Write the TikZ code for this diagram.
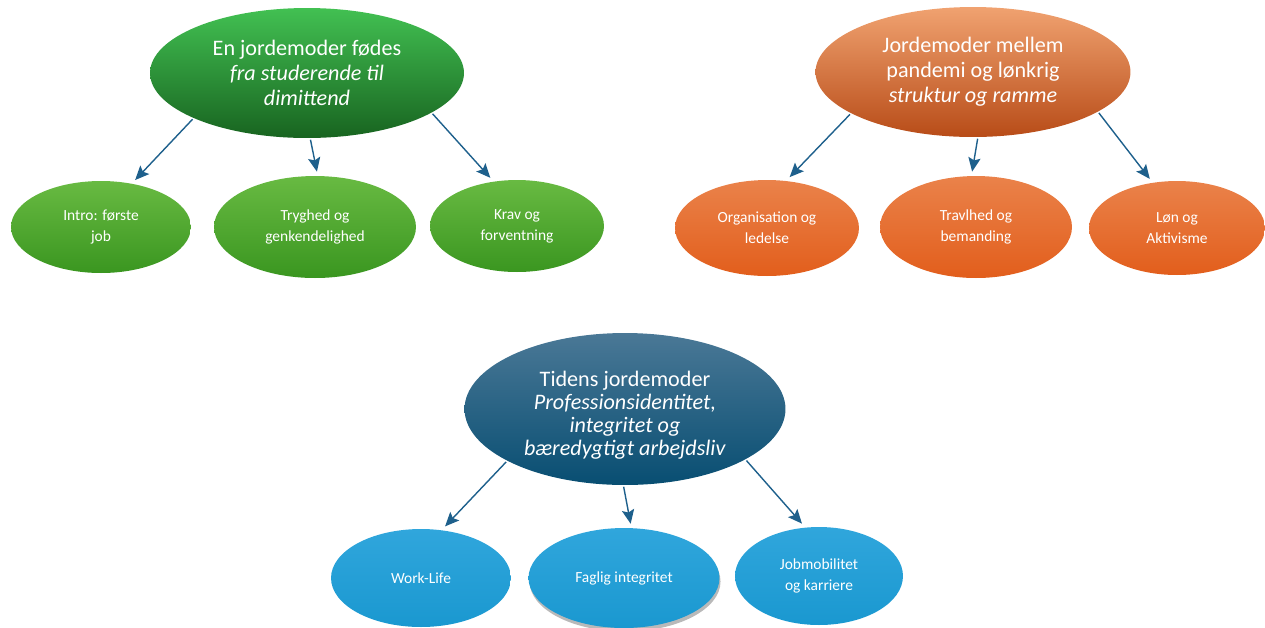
\documentclass[tikz,border=0pt]{standalone}
\usepackage{fontspec}
\setmainfont{Carlito}
\usetikzlibrary{shapes,shadows,arrows.meta}

\definecolor{greentop}{RGB}{66,192,82}
\definecolor{greenmid}{RGB}{40,150,52}
\definecolor{greenbot}{RGB}{24,100,32}
\definecolor{leaftop}{RGB}{104,186,66}
\definecolor{leafbot}{RGB}{58,150,32}
\definecolor{orangetop}{RGB}{240,162,112}
\definecolor{orangemid}{RGB}{234,114,44}
\definecolor{orangebot}{RGB}{184,76,24}
\definecolor{peachtop}{RGB}{234,130,74}
\definecolor{peachbot}{RGB}{226,94,28}
\definecolor{navytop}{RGB}{74,120,150}
\definecolor{navybot}{RGB}{8,78,114}
\definecolor{skytop}{RGB}{48,166,220}
\definecolor{skybot}{RGB}{26,152,208}
\definecolor{arrowblue}{RGB}{30,96,140}

\begin{document}
\begin{tikzpicture}[x=0.02cm,y=-0.02cm]
        \tikzstyle{bubble}=[ellipse,inner sep=0pt,text=white,align=center]
        \tikzstyle{topic}=[bubble,outer sep=1pt,font=\fontsize{12.6}{14.2}\selectfont]
        \tikzstyle{theme}=[bubble,outer sep=2.5pt,font=\fontsize{8.8}{11.8}\selectfont]
        \tikzstyle{link}=[draw=arrowblue,line width=0.8pt,-{Stealth[length=8pt,width=7pt,inset=1.5pt]}]
        \useasboundingbox (0,0) rectangle (1265,627);

        % green group
        \node[topic,minimum width=6.28cm,minimum height=2.6cm,top color=greentop,middle color=greenmid,bottom color=greenbot]
          (g0) at (307,73) {En jordemoder fødes\\\textit{fra studerende til}\\\textit{dimittend}};
        \node[theme,minimum width=3.6cm,minimum height=1.84cm,top color=leaftop,bottom color=leafbot]
          (g1) at (101,227) {Intro: første\\job};
        \node[theme,minimum width=4.04cm,minimum height=2.04cm,top color=leaftop,bottom color=leafbot]
          (g2) at (315,227) {Tryghed og\\genkendelighed};
        \node[theme,minimum width=3.48cm,minimum height=1.84cm,top color=leaftop,bottom color=leafbot]
          (g3) at (517,226) {Krav og\\forventning};
        \draw[link] (g0.202) -- (g1.54);
        \draw[link] (g0.273) -- (g2.88);
        \draw[link] (g0.342) -- (g3.119);

        % orange group
        \node[topic,minimum width=6.3cm,minimum height=2.6cm,top color=orangetop,middle color=orangemid,bottom color=orangebot]
          (o0) at (973,72) {Jordemoder mellem\\pandemi og lønkrig\\\textit{struktur og ramme}};
        \node[theme,minimum width=3.68cm,minimum height=1.92cm,top color=peachtop,bottom color=peachbot]
          (o1) at (767,228) {Organisation og\\ledelse};
        \node[theme,minimum width=3.84cm,minimum height=2.04cm,top color=peachtop,bottom color=peachbot]
          (o2) at (976,227) {Travlhed og\\bemanding};
        \node[theme,minimum width=3.52cm,minimum height=1.88cm,top color=peachtop,bottom color=peachbot]
          (o3) at (1177,228) {Løn og\\Aktivisme};
        \draw[link] (o0.199) -- (o1.66);
        \draw[link] (o0.274) -- (o2.94);
        \draw[link] (o0.342) -- (o3.119);

        % blue group (the strut pushes the four lines a little down)
        \node[topic,font=\fontsize{12.6}{13.2}\selectfont,minimum width=6.42cm,minimum height=3.04cm,top color=navytop,bottom color=navybot]
          (b0) at (625,409) {\rule{0pt}{16pt}Tidens jordemoder\\\textit{Professionsidentitet,}\\\textit{integritet og}\\\textit{bæredygtigt arbejdsliv}};
        \node[theme,minimum width=3.6cm,minimum height=1.96cm,top color=skytop,bottom color=skybot]
          (b1) at (421,578) {Work-Life};
        \node[theme,minimum width=3.82cm,minimum height=2cm,top color=skytop,bottom color=skybot,
          drop shadow={shadow xshift=0.6pt,shadow yshift=-2pt,opacity=0.55}]
          (b2) at (624,578) {Faglig integritet};
        \node[theme,minimum width=3.36cm,minimum height=1.96cm,top color=skytop,bottom color=skybot]
          (b3) at (819,576) {Jobmobilitet\\og karriere};
        \draw[link] (b0.204) -- (b1.65);
        \draw[link] (b0.269) -- (b2.83);
        \draw[link] (b0.337) -- (b3.108);
      \end{tikzpicture}
\end{document}
